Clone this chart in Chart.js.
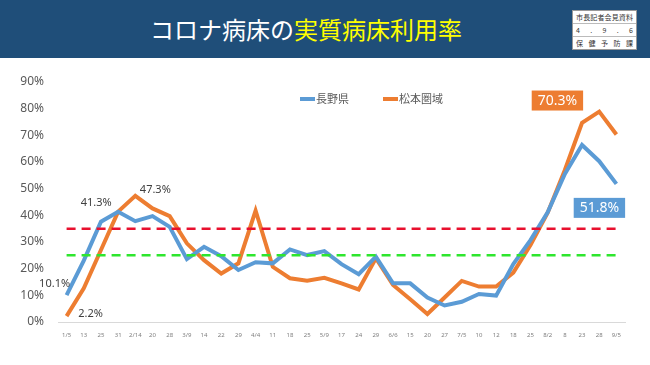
<!DOCTYPE html>
<html>
<head>
<meta charset="utf-8">
<script src="https://cdn.jsdelivr.net/npm/chart.js@4"></script>
<style>
    html, body { margin: 0; padding: 0; background: #fff; }
    body { width: 650px; height: 365px; overflow: hidden; font-family: "Noto Sans CJK JP", "Noto Sans", sans-serif; }
    #header { position: absolute; left: 0; top: 0; width: 650px; height: 58px; background: #1f4e79; }
    #title { position: absolute; left: 0; width: 612px; top: 13px; text-align: center; font-size: 24px; line-height: 32px; color: #fff; }
    #title span { color: #ffff00; }
    #stamp { position: absolute; left: 572px; top: 10px; width: 63px; background: #fff; border: 1px solid #999; }
    #stamp div { height: 12px; line-height: 12px; font-size: 7px; color: #333; display: flex; justify-content: space-between; padding: 0 3px; border-bottom: 1px solid #bbb; }
    #stamp div:last-child { border-bottom: none; }
    #wrap { position: absolute; left: 0; top: 58px; width: 650px; height: 307px; }
</style>
</head>
<body>
<div id="header">
    <div id="title">コロナ病床の<span>実質病床利用率</span></div>
    <div id="stamp">
        <div><span>市</span><span>長</span><span>記</span><span>者</span><span>会</span><span>見</span><span>資</span><span>料</span></div>
        <div><span>4</span><span>.</span><span>9</span><span>.</span><span>6</span></div>
        <div><span>保</span><span>健</span><span>予</span><span>防</span><span>課</span></div>
    </div>
</div>
<div id="wrap"><canvas id="chart" width="650" height="307"></canvas></div>
<script>
// data
const dates = ['1/5', '13', '25', '31', '2/14', '20', '28', '3/9', '14', '22', '29', '4/4', '11', '18', '25', '5/9',
    '17', '24', '29', '6/6', '15', '20', '27', '7/5', '10', '12', '18', '25', '8/2', '8', '23', '28', '9/5'];
const naganoRate = [10.1, 23, 37.6, 41.3, 37.8, 39.7, 35.7, 23.6, 28.2, 24.7, 19.5, 22.4, 22.0, 27.2, 25.1, 26.6,
    21.7, 17.9, 24.5, 14.5, 14.5, 9.2, 6.2, 7.6, 10.5, 9.9, 21.7, 30.7, 41.1, 55.5, 66.4, 60.3, 51.8];
const matsumotoRate = [2.2, 12.6, 27, 41.4, 47.3, 42.6, 39.7, 29.5, 23.2, 18.2, 22.0, 41.8, 20.7, 16.4, 15.5, 16.6,
    14.5, 12.2, 23.9, 13.9, 8.5, 3.0, 9.2, 15.4, 13.3, 13.3, 18.5, 28.9, 41.0, 57.0, 74.7, 78.9, 70.3];
const redLevel = 35;
const greenLevel = 25;
const yTicks = [0, 10, 20, 30, 40, 50, 60, 70, 80, 90];

const BLUE = '#5b9bd5';
const ORANGE = '#ed7d31';

// value labels: [dataset index, point index, text, dx, dy, boxed]
const valueLabels = [
    [0, 0, '10.1%', -12, -11, false],
    [1, 0, '2.2%', 24, -2, false],
    [0, 3, '41.3%', -22, -9, false],
    [1, 4, '47.3%', 20, -6, false],
    [1, 32, '70.3%', -59, -34, true],
    [0, 32, '51.8%', -17, 24, true]
];

const labelPlugin = {
    id: 'labelPlugin',
    afterDatasetsDraw(chart) {
        const ctx = chart.ctx;
        const x = chart.scales.x, y = chart.scales.y;
        const series = [naganoRate, matsumotoRate];
        const colors = [BLUE, ORANGE];
        ctx.save();
        ctx.textAlign = 'center';
        ctx.textBaseline = 'middle';
        valueLabels.forEach(function (l) {
            const px = x.getPixelForValue(l[1]) + l[3];
            const py = y.getPixelForValue(series[l[0]][l[1]]) + l[4];
            if (l[5]) {
                ctx.font = '14px "Noto Sans", sans-serif';
                const w = ctx.measureText(l[2]).width + 12;
                ctx.fillStyle = colors[l[0]];
                ctx.fillRect(px - w / 2, py - 10, w, 20);
                ctx.fillStyle = '#fff';
            } else {
                ctx.font = '11px "Noto Sans", sans-serif';
                ctx.fillStyle = '#404040';
            }
            ctx.fillText(l[2], px, py);
        });

        // legend
        const legend = [['長野県', BLUE, 300], ['松本圏域', ORANGE, 383]];
        ctx.font = '11px "Noto Sans CJK JP", sans-serif';
        ctx.textAlign = 'left';
        legend.forEach(function (item) {
            ctx.strokeStyle = item[1];
            ctx.lineWidth = 4;
            ctx.beginPath();
            ctx.moveTo(item[2], 41);
            ctx.lineTo(item[2] + 15, 41);
            ctx.stroke();
            ctx.fillStyle = '#595959';
            ctx.fillText(item[0], item[2] + 16, 41);
        });
        ctx.restore();
    }
};

new Chart(document.getElementById('chart').getContext('2d'), {
    type: 'line',
    data: {
        labels: dates,
        datasets: [{
            label: '長野県',
            data: naganoRate,
            borderColor: BLUE,
            borderWidth: 4,
            pointRadius: 0,
            tension: 0
        }, {
            label: '松本圏域',
            data: matsumotoRate,
            borderColor: ORANGE,
            borderWidth: 4,
            pointRadius: 0,
            tension: 0
        }, {
            label: 'red',
            data: dates.map(() => redLevel),
            borderColor: '#e8102e',
            borderWidth: 2.5,
            borderDash: [9, 6],
            pointRadius: 0,
            order: -1
        }, {
            label: 'green',
            data: dates.map(() => greenLevel),
            borderColor: '#2ee62e',
            borderWidth: 2.5,
            borderDash: [9, 6],
            pointRadius: 0,
            order: -1
        }]
    },
    options: {
        responsive: false,
        animation: false,
        layout: { padding: { top: 24, right: 25, left: 0, bottom: 0 } },
        plugins: {
            legend: { display: false },
            tooltip: { enabled: false }
        },
        scales: {
            x: {
                offset: true,
                grid: { display: false },
                border: { color: '#d9d9d9', width: 1 },
                ticks: {
                    autoSkip: false,
                    maxRotation: 0,
                    padding: 2,
                    color: '#7f7f7f',
                    font: { size: 6, family: '"Noto Sans", sans-serif' }
                },
                afterFit(scale) { scale.height = 43; }
            },
            y: {
                min: 0,
                max: 90,
                afterBuildTicks(scale) { scale.ticks = yTicks.map(v => ({ value: v })); },
                grid: { display: false },
                border: { display: false },
                ticks: {
                    padding: 6,
                    color: '#595959',
                    font: { size: 12, family: '"Noto Sans", sans-serif' },
                    callback: v => v + '%'
                },
                afterFit(scale) { scale.width = 58; }
            }
        }
    },
    plugins: [labelPlugin]
});
</script>
</body>
</html>
